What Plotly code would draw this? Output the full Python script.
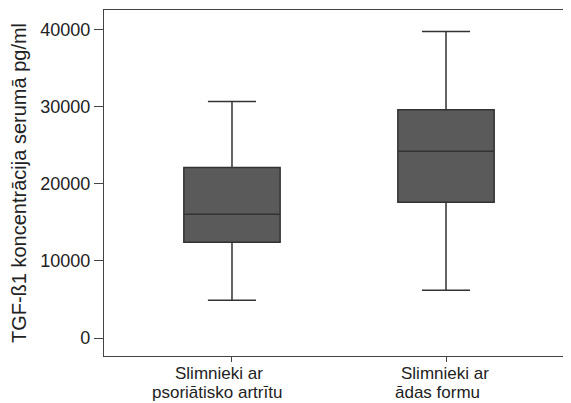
import plotly.graph_objects as go

category_line1 = ["Slimnieki ar", "Slimnieki ar"]
category_line2 = ["psoriātisko artrītu", "ādas formu"]
x_pos = [0, 1]
lower_whisker = [4900, 6200]
q1 = [12400, 17600]
median = [16050, 24200]
q3 = [22100, 29600]
upper_whisker = [30650, 39750]
y_ticks = [0, 10000, 20000, 30000, 40000]
y_ticktext = ["0", "10000", "20000", "30000", "40000"]

# page body has an 8px margin, so the figure is 8px smaller than the window
fig = go.Figure()
fig.add_trace(go.Box(
    x=x_pos,
    q1=q1, median=median, q3=q3,
    lowerfence=lower_whisker, upperfence=upper_whisker,
    fillcolor="#5a5a5a",
    line=dict(color="#333333", width=1.5),
    width=0.45,
    whiskerwidth=0.5,
    boxpoints=False,
    showlegend=False,
    hoverinfo="skip",
))

font = "Liberation Sans, Arial, sans-serif"
shift1 = [-13, -1]
shift2 = [-15, -9]
for xv, t1, t2, s1, s2 in zip(x_pos, category_line1, category_line2, shift1, shift2):
    fig.add_annotation(
        x=xv, y=0, xref="x", yref="paper", yanchor="top", yshift=-6, xshift=s1,
        text=t1, showarrow=False, font=dict(size=17, color="#222", family=font),
    )
    fig.add_annotation(
        x=xv, y=0, xref="x", yref="paper", yanchor="top", yshift=-25, xshift=s2,
        text=t2, showarrow=False, font=dict(size=17, color="#222", family=font),
    )

fig.update_layout(
    width=563, height=395,
    margin=dict(l=96, r=0, t=2, b=47),
    paper_bgcolor="white", plot_bgcolor="white",
    font=dict(family=font, color="#222222"),
    xaxis=dict(
        range=[-0.598, 1.584],
        tickvals=x_pos, ticktext=["", ""],
        ticks="outside", ticklen=5, tickcolor="#444",
        showline=True, linecolor="#444", linewidth=1.2, mirror=True,
        showgrid=False, zeroline=False,
    ),
    yaxis=dict(
        range=[-2334, 42530],
        tickvals=y_ticks, ticktext=y_ticktext,
        ticks="outside", ticklen=9, tickcolor="#444",
        showline=True, linecolor="#444", linewidth=1.2,
        showgrid=False, zeroline=False,
        tickfont=dict(size=18, color="#222"),
        title=dict(text="TGF-ß1 koncentrācija serumā pg/ml", font=dict(size=20, color="#222"), standoff=9),
    ),
)

fig.write_html("out.html")
